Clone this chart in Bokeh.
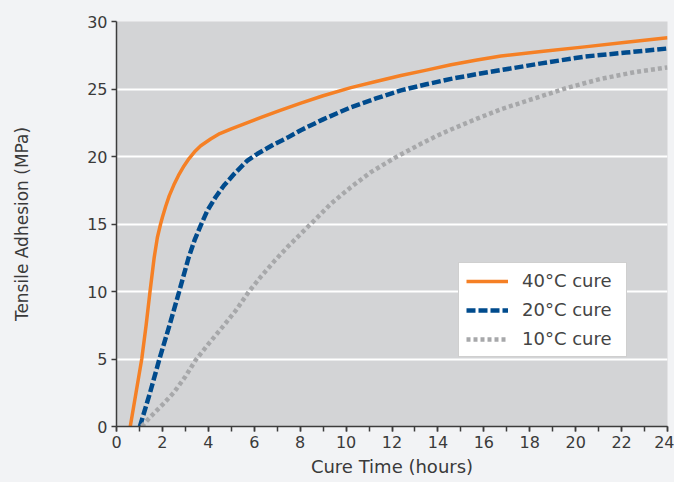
from bokeh.plotting import figure
from bokeh.models import SingleIntervalTicker, Range1d, Legend, LegendItem
from bokeh.embed import file_html
from bokeh.resources import INLINE

# ---- data ----
t40 = [0.6, 0.85, 1.1, 1.29, 1.46, 1.64, 1.78, 1.92, 2.0, 2.14, 2.3, 2.5, 2.7, 2.94, 3.16, 3.4,
       3.67, 4.1, 4.5, 5.0, 5.85, 6.3, 7.1, 8.03, 9.0, 10.21, 11.3, 12.39, 13.5, 14.57, 15.7,
       16.75, 18.5, 20.39, 22.2, 24.0]
y40 = [0, 2.5, 5, 7.5, 10, 12.5, 14.0, 15.0, 15.5, 16.3, 17.1, 17.9, 18.6, 19.3, 19.85, 20.35,
       20.8, 21.3, 21.7, 22.05, 22.6, 22.9, 23.4, 23.95, 24.5, 25.1, 25.55, 26.0, 26.4, 26.8, 27.15,
       27.45, 27.78, 28.12, 28.46, 28.8]

t20 = [1.02, 1.46, 1.87, 2.31, 2.73, 3.14, 3.4, 3.67, 3.96, 4.32, 4.68, 5.12, 5.7, 6.14, 6.86,
       7.45, 8.03, 9.0, 10.21, 11.3, 12.39, 13.5, 14.57, 15.7, 16.75, 18.5, 20.39, 22.2, 24.0]
y20 = [0, 2.5, 5, 7.5, 10, 12.5, 13.8, 14.9, 16.0, 17.0, 17.85, 18.7, 19.7, 20.2, 20.9,
       21.4, 21.95, 22.75, 23.65, 24.3, 24.9, 25.35, 25.75, 26.1, 26.4, 26.9, 27.4, 27.7, 28.0]

t10 = [1.1, 1.5, 2.05, 2.49, 3.0, 3.44, 4.0, 4.68, 5.2, 5.77, 6.29, 6.9, 7.45, 8.46, 9.34, 10.21,
       11.08, 12.17, 13.26, 13.99, 14.57, 15.7, 16.75, 18.2, 19.66, 21.1, 22.57, 24.0]
y10 = [0, 0.75, 1.7, 2.5, 3.7, 4.9, 6.1, 7.5, 8.6, 10.0, 11.1, 12.3, 13.3, 15.0, 16.5, 17.73,
       18.84, 19.95, 20.94, 21.56, 22.0, 22.8, 23.5, 24.3, 25.1, 25.75, 26.25, 26.6]

labels = ["40°C cure", "20°C cure", "10°C cure"]
colors = ["#f58025", "#004b8d", "#a7a8aa"]

FONT = "DejaVu Sans"
TXT = "#3a3a3a"

p = figure(width=674, height=482, output_backend="svg", toolbar_location=None,
           x_range=Range1d(0, 24), y_range=Range1d(0, 30),
           background_fill_color="#d3d4d6", border_fill_color="#f2f3f5",
           min_border_left=116, min_border_right=7, min_border_top=21, min_border_bottom=56)
p.outline_line_color = None

r40 = p.line(t40, y40, line_color=colors[0], line_width=3.5, line_join="round")
r20 = p.line(t20, y20, line_color=colors[1], line_width=4.5, line_dash="9 3")
r10 = p.line(t10, y10, line_color=colors[2], line_width=4.5, line_dash="4 3")

p.xaxis.ticker = SingleIntervalTicker(interval=2, num_minor_ticks=2)
p.yaxis.ticker = SingleIntervalTicker(interval=5, num_minor_ticks=0)

p.xgrid.grid_line_color = None
p.ygrid.grid_line_color = "white"
p.ygrid.grid_line_width = 2

for ax in (p.xaxis, p.yaxis):
    ax.axis_line_color = "#3c3c3c"
    ax.axis_line_width = 1.5
    ax.major_tick_line_color = "#3c3c3c"
    ax.minor_tick_line_color = "#3c3c3c"
    ax.major_tick_line_width = 1.5
    ax.minor_tick_line_width = 1.5
    ax.major_tick_in = 0
    ax.minor_tick_in = 0
    ax.major_tick_out = 5
    ax.minor_tick_out = 5
    ax.major_label_text_font = FONT
    ax.major_label_text_font_size = "16px"
    ax.major_label_text_color = TXT
    ax.axis_label_text_font = FONT
    ax.axis_label_text_color = TXT
    ax.axis_label_text_font_style = "normal"

p.xaxis.axis_label = "Cure Time (hours)"
p.yaxis.axis_label = "Tensile Adhesion (MPa)"
p.xaxis.axis_label_text_font_size = "18px"
p.yaxis.axis_label_text_font_size = "17px"
p.xaxis.major_label_standoff = 4
p.xaxis.axis_label_standoff = 5
p.yaxis.major_label_standoff = 4
p.yaxis.axis_label_standoff = 52

legend = Legend(items=[LegendItem(label=labels[0], renderers=[r40]),
                       LegendItem(label=labels[1], renderers=[r20]),
                       LegendItem(label=labels[2], renderers=[r10])],
                location=(342, 69))
legend.label_text_font = FONT
legend.label_text_font_size = "18px"
legend.label_text_color = "#444444"
legend.glyph_width = 42
legend.glyph_height = 20
legend.label_height = 20
legend.label_width = 97
legend.label_standoff = 14
legend.spacing = 8
legend.padding = 7
legend.margin = 0
legend.border_line_color = "#a0a0a0"
legend.border_line_width = 1
legend.background_fill_color = "white"
legend.background_fill_alpha = 1
p.add_layout(legend)

html = file_html(p, INLINE)
html = html.replace("</head>", "<style>body{background:#f2f3f5;}</style></head>", 1)
open("out.html", "w").write(html)
